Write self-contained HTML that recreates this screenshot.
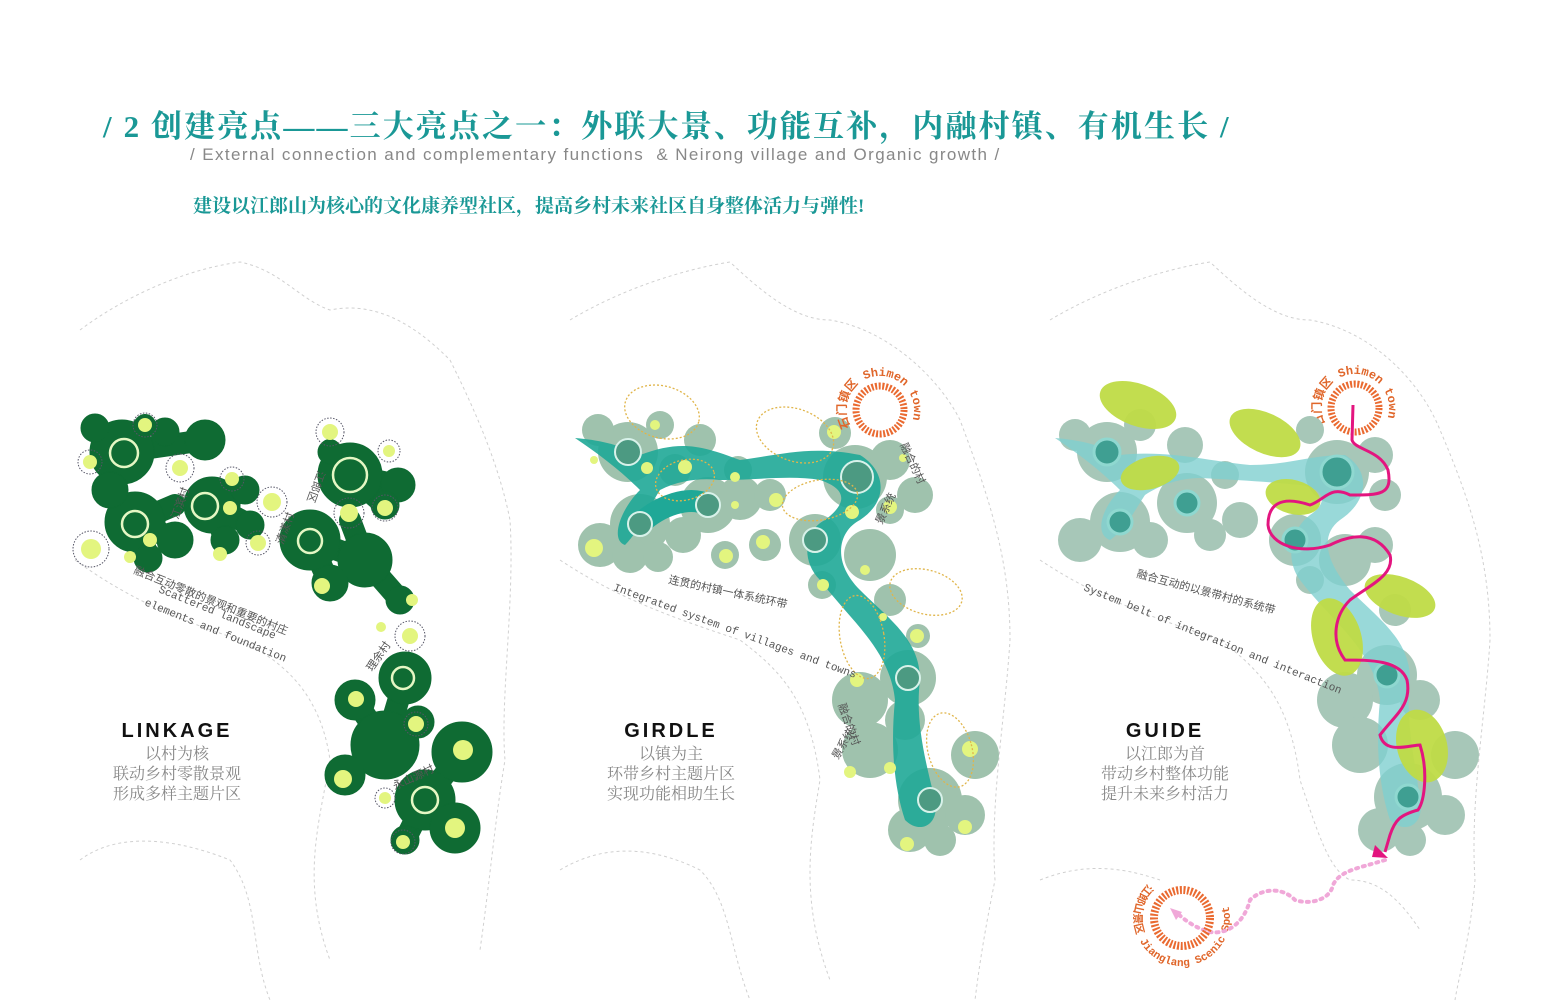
<!DOCTYPE html>
<html><head><meta charset="utf-8"><style>
html,body{margin:0;padding:0;background:#fff;}
body{width:1552px;height:1003px;overflow:hidden;position:relative;}
svg{position:absolute;left:0;top:0;}
</style></head><body>
<svg width="1552" height="1003" viewBox="0 0 1552 1003" xmlns="http://www.w3.org/2000/svg">
<defs>
<path id="arcS2" d="M850.6,427 A34,34 0 1 1 897,439.4"/>
<path id="arcS3" d="M1325.6,425 A34,34 0 1 1 1372,437.4"/>
<path id="arcJ" d="M1148,884 A48,48 0 1 0 1198.4,872.9"/>
</defs>
<!-- map outlines -->
<g fill="none" stroke="#d0d0d0" stroke-width="1" stroke-dasharray="3,3">
<path d="M80,330 C120,300 180,270 240,262 C280,270 300,300 330,310 C380,300 420,330 450,360 C480,420 500,470 510,520 C515,600 500,700 505,760 C495,820 490,880 480,950"/>
<path d="M75,560 C130,600 180,620 240,640 C280,660 320,690 330,760 C320,820 300,880 330,960"/>
<path d="M80,860 C120,830 180,840 230,860 C260,900 250,950 270,1000"/>
<path d="M570,320 C620,290 680,270 730,262 C770,300 800,320 830,320 C890,330 940,380 960,420 C990,500 1010,560 1010,640 C1005,720 990,800 995,880 C985,930 980,960 975,1000"/>
<path d="M560,560 C620,600 680,620 740,640 C780,670 810,700 820,780 C810,840 800,900 830,980"/>
<path d="M560,870 C610,840 660,850 700,870 C730,900 730,950 750,1000"/>
<path d="M1050,320 C1100,290 1160,270 1210,262 C1250,300 1280,320 1310,320 C1370,330 1420,380 1440,430 C1470,500 1490,560 1490,640 C1485,720 1470,800 1475,880 C1470,940 1460,970 1455,1000"/>
<path d="M1040,560 C1100,600 1160,620 1220,640 C1260,670 1290,700 1300,780 C1320,840 1330,870 1350,880 C1380,880 1400,900 1420,930"/>
<path d="M1040,880 C1090,860 1130,870 1160,880"/>
</g>

<!-- Panel 1 LINKAGE -->
<g fill="#0f6b33" stroke="#0f6b33" stroke-linecap="round">
<g stroke-width="22" fill="none">
<path d="M95,428 L122,452 L205,440"/><path d="M145,425 L122,452"/>
<path d="M110,490 L135,522 L178,540"/><path d="M135,522 L150,560"/><path d="M135,522 L175,505"/>
<path d="M212,505 L245,490 M212,505 L250,525 M212,505 L225,540"/>
<path d="M350,475 L398,485 M350,475 L330,450 M350,475 L385,505"/>
<path d="M310,540 L365,560 L400,600 M310,540 L330,585 M365,560 L350,520"/>
<path d="M405,678 L385,745 L355,700 M385,745 L345,775 M385,745 L418,722"/>
<path d="M425,800 L462,752 M425,800 L455,828 M425,800 L405,840"/>
</g>
<circle cx="122" cy="452" r="32"/><circle cx="205" cy="440" r="20"/><circle cx="95" cy="428" r="14"/><circle cx="165" cy="432" r="14"/>
<circle cx="135" cy="522" r="30"/><circle cx="110" cy="490" r="18"/><circle cx="175" cy="540" r="18"/><circle cx="148" cy="558" r="14"/>
<circle cx="212" cy="505" r="28"/><circle cx="245" cy="490" r="14"/><circle cx="250" cy="525" r="14"/><circle cx="225" cy="540" r="14"/>
<circle cx="350" cy="475" r="32"/><circle cx="398" cy="485" r="17"/><circle cx="330" cy="452" r="12"/><circle cx="385" cy="505" r="14"/>
<circle cx="310" cy="540" r="30"/><circle cx="365" cy="560" r="27"/><circle cx="400" cy="600" r="14"/><circle cx="330" cy="583" r="18"/>
<circle cx="405" cy="678" r="26"/><circle cx="355" cy="700" r="20"/><circle cx="385" cy="745" r="34"/><circle cx="345" cy="775" r="20"/><circle cx="418" cy="722" r="16"/>
<circle cx="425" cy="800" r="30"/><circle cx="462" cy="752" r="30"/><circle cx="455" cy="828" r="25"/><circle cx="405" cy="840" r="14"/>
</g>
<g fill="none" stroke="#e5f7c4" stroke-width="2.5">
<circle cx="124" cy="453" r="14"/><circle cx="135" cy="524" r="13"/><circle cx="205" cy="506" r="13"/><circle cx="350" cy="475" r="17"/><circle cx="310" cy="541" r="12"/><circle cx="403" cy="678" r="11"/><circle cx="425" cy="800" r="13"/>
</g>
<g fill="#e3f57f">
<circle cx="145" cy="425" r="7"/><circle cx="90" cy="462" r="7"/><circle cx="180" cy="468" r="8"/><circle cx="91" cy="549" r="10"/><circle cx="130" cy="557" r="6"/><circle cx="150" cy="540" r="7"/>
<circle cx="232" cy="479" r="7"/><circle cx="230" cy="508" r="7"/><circle cx="272" cy="502" r="9"/><circle cx="258" cy="543" r="8"/><circle cx="220" cy="554" r="7"/>
<circle cx="330" cy="432" r="8"/><circle cx="389" cy="451" r="6"/><circle cx="385" cy="508" r="8"/><circle cx="349" cy="513" r="9"/><circle cx="322" cy="586" r="8"/><circle cx="412" cy="600" r="6"/><circle cx="381" cy="627" r="5"/><circle cx="410" cy="636" r="8"/>
<circle cx="356" cy="699" r="8"/><circle cx="416" cy="724" r="8"/><circle cx="343" cy="779" r="9"/><circle cx="385" cy="798" r="6"/><circle cx="463" cy="750" r="10"/><circle cx="455" cy="828" r="10"/><circle cx="403" cy="842" r="7"/>
</g>
<g fill="none" stroke="#556" stroke-width="1" stroke-dasharray="1.5,1.5">
<circle cx="145" cy="425" r="12"/><circle cx="90" cy="462" r="12"/><circle cx="180" cy="468" r="14"/><circle cx="91" cy="549" r="18"/><circle cx="232" cy="479" r="12"/><circle cx="272" cy="502" r="15"/><circle cx="258" cy="543" r="12"/><circle cx="330" cy="432" r="14"/><circle cx="389" cy="451" r="11"/><circle cx="385" cy="508" r="13"/><circle cx="349" cy="513" r="15"/><circle cx="410" cy="636" r="15"/><circle cx="416" cy="724" r="12"/><circle cx="385" cy="798" r="10"/><circle cx="403" cy="842" r="12"/>
</g>
<g font-family="'Liberation Mono','Noto Sans CJK SC',monospace" fill="#555" font-size="11">
<text transform="translate(133,573) rotate(22)">融合互动零散的景观和重要的村庄</text>
<text transform="translate(158,592) rotate(22)">Scattered landscape</text>
<text transform="translate(144,605) rotate(22)">elements and foundation</text>
<text transform="translate(178,520) rotate(-70)">江滨村</text>
<text transform="translate(283,545) rotate(-70)">清漾村</text>
<text transform="translate(318,470) rotate(110)">江郎区</text>
<text transform="translate(372,672) rotate(-55)">理余村</text>
<text transform="translate(395,790) rotate(-25)">永山源村</text>
</g>

<!-- Panel 2 GIRDLE -->
<g fill="#9fc2ad">
<circle cx="628" cy="452" r="30"/><circle cx="598" cy="430" r="16"/><circle cx="660" cy="425" r="14"/><circle cx="700" cy="440" r="16"/><circle cx="675" cy="470" r="16"/>
<circle cx="640" cy="524" r="30"/><circle cx="600" cy="545" r="22"/><circle cx="630" cy="555" r="18"/><circle cx="658" cy="557" r="15"/><circle cx="683" cy="535" r="18"/>
<circle cx="708" cy="505" r="28"/><circle cx="740" cy="498" r="22"/><circle cx="738" cy="470" r="14"/><circle cx="770" cy="495" r="16"/><circle cx="765" cy="545" r="16"/><circle cx="725" cy="555" r="14"/>
<circle cx="855" cy="477" r="32"/><circle cx="835" cy="433" r="16"/><circle cx="890" cy="460" r="20"/><circle cx="915" cy="495" r="18"/><circle cx="890" cy="510" r="14"/>
<circle cx="815" cy="540" r="26"/><circle cx="870" cy="555" r="26"/><circle cx="822" cy="585" r="14"/><circle cx="890" cy="600" r="16"/><circle cx="918" cy="636" r="12"/>
<circle cx="908" cy="678" r="28"/><circle cx="860" cy="700" r="28"/><circle cx="870" cy="750" r="28"/><circle cx="905" cy="720" r="20"/>
<circle cx="930" cy="800" r="32"/><circle cx="975" cy="755" r="24"/><circle cx="965" cy="815" r="20"/><circle cx="910" cy="830" r="22"/><circle cx="940" cy="840" r="16"/>
</g>
<path d="M575,438 C600,440 620,445 640,455 C680,440 700,445 740,460 C780,455 810,445 860,455 C885,470 890,500 860,520 C840,530 830,560 860,590 C890,620 920,640 920,680 C915,720 925,760 935,800 C940,825 920,835 905,820 C895,790 890,750 895,700 C890,650 850,620 820,580 C800,560 805,530 825,520 C845,505 850,490 820,480 C790,475 760,480 720,480 C700,478 680,480 660,490 C650,505 640,530 625,545 C610,540 620,510 640,490 C620,470 600,455 575,438 Z" fill="#1fa897" opacity="0.9"/>
<path d="M640,524 C660,505 690,495 708,505" fill="none" stroke="#1fa897" stroke-width="22"/>
<g fill="#4c9a82" stroke="#d8f2ea" stroke-width="2">
<circle cx="628" cy="452" r="13"/><circle cx="640" cy="524" r="12"/><circle cx="708" cy="505" r="12"/><circle cx="857" cy="477" r="16"/><circle cx="815" cy="540" r="12"/><circle cx="908" cy="678" r="12"/><circle cx="930" cy="800" r="12"/>
</g>
<g fill="#e3f57f">
<circle cx="594" cy="548" r="9"/><circle cx="594" cy="460" r="4"/><circle cx="655" cy="425" r="5"/><circle cx="685" cy="467" r="7"/><circle cx="647" cy="468" r="6"/>
<circle cx="735" cy="477" r="5"/><circle cx="776" cy="500" r="7"/><circle cx="763" cy="542" r="7"/><circle cx="726" cy="556" r="7"/><circle cx="735" cy="505" r="4"/>
<circle cx="834" cy="432" r="7"/><circle cx="852" cy="512" r="7"/><circle cx="890" cy="507" r="7"/><circle cx="903" cy="458" r="4"/>
<circle cx="823" cy="585" r="6"/><circle cx="865" cy="570" r="5"/><circle cx="917" cy="636" r="7"/><circle cx="883" cy="617" r="4"/>
<circle cx="857" cy="680" r="7"/><circle cx="850" cy="772" r="6"/><circle cx="890" cy="768" r="6"/><circle cx="970" cy="749" r="8"/><circle cx="965" cy="827" r="7"/><circle cx="907" cy="844" r="7"/>
</g>
<g fill="none" stroke="#e0b54a" stroke-width="1.3" stroke-dasharray="2,2">
<ellipse cx="662" cy="412" rx="38" ry="26" transform="rotate(15 662 412)"/>
<ellipse cx="795" cy="435" rx="40" ry="26" transform="rotate(20 795 435)"/>
<ellipse cx="685" cy="480" rx="30" ry="20" transform="rotate(-15 685 480)"/>
<ellipse cx="820" cy="500" rx="38" ry="20" transform="rotate(-10 820 500)"/>
<ellipse cx="926" cy="592" rx="37" ry="22" transform="rotate(15 926 592)"/>
<ellipse cx="862" cy="637" rx="22" ry="42" transform="rotate(-10 862 637)"/>
<ellipse cx="950" cy="750" rx="22" ry="38" transform="rotate(-15 950 750)"/>
</g>
<circle cx="880" cy="410" r="24" fill="none" stroke="#ea6a30" stroke-width="7" stroke-dasharray="2,1.6"/>
<g font-family="'Liberation Mono','Noto Sans CJK SC',monospace" fill="#555" font-size="11">
<text transform="translate(668,583) rotate(12)">连贯的村镇一体系统环带</text>
<text transform="translate(613,590) rotate(20)">Integrated system of villages and towns</text>
<text transform="translate(900,445) rotate(65)">融合的村</text>
<text transform="translate(882,525) rotate(-65)">景系统</text>
<text transform="translate(838,705) rotate(70)">融合的村</text>
<text transform="translate(838,760) rotate(-60)">景系统</text>
</g>
<g font-family="'Liberation Mono','Noto Sans CJK SC',monospace" fill="#e0662a" font-size="12" font-weight="bold">
<text><textPath href="#arcS2">石门镇区 Shimen town</textPath></text>
<text><textPath href="#arcS3">石门镇区 Shimen town</textPath></text>
</g>
<text font-family="'Liberation Mono','Noto Sans CJK SC',monospace" fill="#e0662a" font-size="11" font-weight="bold"><textPath href="#arcJ">江郎山景区 Jianglang Scenic Spot</textPath></text>

<!-- Panel 3 GUIDE -->
<g fill="#a7c7b8">
<circle cx="1107" cy="452" r="30"/><circle cx="1075" cy="435" r="16"/><circle cx="1140" cy="425" r="16"/><circle cx="1185" cy="445" r="18"/>
<circle cx="1120" cy="522" r="30"/><circle cx="1080" cy="540" r="22"/><circle cx="1150" cy="540" r="18"/>
<circle cx="1187" cy="503" r="30"/><circle cx="1225" cy="475" r="14"/><circle cx="1240" cy="520" r="18"/><circle cx="1210" cy="535" r="16"/>
<circle cx="1337" cy="472" r="32"/><circle cx="1310" cy="430" r="14"/><circle cx="1375" cy="455" r="18"/><circle cx="1385" cy="495" r="16"/>
<circle cx="1295" cy="540" r="26"/><circle cx="1345" cy="560" r="26"/><circle cx="1375" cy="545" r="18"/><circle cx="1310" cy="580" r="14"/><circle cx="1395" cy="610" r="16"/>
<circle cx="1387" cy="675" r="30"/><circle cx="1345" cy="700" r="28"/><circle cx="1360" cy="745" r="28"/><circle cx="1420" cy="700" r="20"/>
<circle cx="1408" cy="797" r="34"/><circle cx="1455" cy="755" r="24"/><circle cx="1445" cy="815" r="20"/><circle cx="1380" cy="830" r="22"/><circle cx="1410" cy="840" r="16"/>
</g>
<path d="M1055,438 C1080,440 1100,445 1120,455 C1170,450 1200,460 1250,465 C1290,465 1310,455 1345,455 C1370,470 1370,500 1340,520 C1320,535 1325,560 1350,590 C1380,620 1410,640 1410,680 C1405,720 1415,760 1420,800 C1425,825 1405,835 1390,820 C1380,790 1375,750 1380,700 C1375,650 1330,620 1300,580 C1285,560 1290,530 1310,515 C1325,505 1330,490 1300,485 C1270,482 1240,480 1200,478 C1180,478 1160,485 1145,495 C1135,510 1125,530 1110,540 C1095,535 1100,510 1120,490 C1100,470 1080,455 1055,438 Z" fill="#7fd0cf" opacity="0.8"/>
<g fill="#3f9f92" stroke="#8fd8d0" stroke-width="3">
<circle cx="1107" cy="452" r="13"/><circle cx="1120" cy="522" r="12"/><circle cx="1187" cy="503" r="12"/><circle cx="1337" cy="472" r="16"/><circle cx="1295" cy="540" r="12"/><circle cx="1387" cy="675" r="12"/><circle cx="1408" cy="797" r="12"/>
</g>
<g fill="#bfdc46" opacity="0.95">
<ellipse cx="1138" cy="405" rx="40" ry="21" transform="rotate(20 1138 405)"/>
<ellipse cx="1265" cy="433" rx="38" ry="20" transform="rotate(25 1265 433)"/>
<ellipse cx="1150" cy="473" rx="30" ry="16" transform="rotate(-15 1150 473)"/>
<ellipse cx="1293" cy="497" rx="28" ry="17" transform="rotate(15 1293 497)"/>
<ellipse cx="1400" cy="596" rx="37" ry="19" transform="rotate(20 1400 596)"/>
<ellipse cx="1337" cy="637" rx="24" ry="40" transform="rotate(-18 1337 637)"/>
<ellipse cx="1422" cy="746" rx="25" ry="37" transform="rotate(-15 1422 746)"/>
</g>
<circle cx="1355" cy="408" r="24" fill="none" stroke="#ea6a30" stroke-width="7" stroke-dasharray="2,1.6"/>
<path d="M1353,405 L1352,440 C1355,450 1380,450 1388,470 C1393,495 1380,495 1350,495 C1330,485 1325,500 1310,505 C1280,495 1268,505 1268,525 C1270,545 1300,555 1330,545 C1350,535 1375,530 1390,555 C1395,575 1370,585 1350,600 C1335,615 1330,640 1345,660 C1370,660 1400,660 1407,680 C1412,705 1395,715 1380,735 C1385,755 1410,745 1420,745 C1428,770 1425,800 1418,810 C1400,815 1395,820 1390,835 L1385,852" fill="none" stroke="#e3157f" stroke-width="3"/>
<path d="M1375,845 L1388,858 L1372,857 Z" fill="#e3157f"/>
<path d="M1385,860 C1360,868 1340,870 1333,885 C1330,900 1310,905 1295,900 C1280,885 1260,890 1250,900 C1245,920 1230,935 1210,932 C1195,928 1185,920 1178,914" fill="none" stroke="#f0a8d8" stroke-width="4" stroke-dasharray="2,5" stroke-linecap="round"/>
<path d="M1170,908 L1182,912 L1176,920 Z" fill="#f0a8d8"/>
<circle cx="1182" cy="918" r="28" fill="none" stroke="#ea6a30" stroke-width="8" stroke-dasharray="2,1.6"/>
<g font-family="'Liberation Mono','Noto Sans CJK SC',monospace" fill="#555" font-size="11">
<text transform="translate(1136,577) rotate(15)">融合互动的以景带村的系统带</text>
<text transform="translate(1083,590) rotate(22)">System belt of integration and interaction</text>
</g>

<!-- Titles -->
<g font-family="'Liberation Sans',sans-serif" font-weight="bold" fill="#111" font-size="20" letter-spacing="3" text-anchor="middle">
<text x="177" y="737">LINKAGE</text>
<text x="671" y="737">GIRDLE</text>
<text x="1165" y="737">GUIDE</text>
</g>
<g font-family="'Liberation Serif','Noto Serif CJK SC',serif" fill="#888" font-size="16" text-anchor="middle">
<text x="177" y="759">以村为核</text><text x="177" y="779">联动乡村零散景观</text><text x="177" y="799">形成多样主题片区</text>
<text x="671" y="759">以镇为主</text><text x="671" y="779">环带乡村主题片区</text><text x="671" y="799">实现功能相助生长</text>
<text x="1165" y="759">以江郎为首</text><text x="1165" y="779">带动乡村整体功能</text><text x="1165" y="799">提升未来乡村活力</text>
</g>
</svg>
<div style="position:absolute;left:103px;top:101px;font-family:'Liberation Serif','Noto Serif CJK SC',serif;font-size:31px;font-weight:bold;color:#1a9896;white-space:nowrap;letter-spacing:2.1px;">/ 2 创建亮点——三大亮点之一：外联大景、功能互补，内融村镇、有机生长 /</div>
<div style="position:absolute;left:190px;top:145px;font-family:'Liberation Sans',sans-serif;font-size:17px;color:#888;white-space:nowrap;letter-spacing:1.4px;">/ External connection and complementary functions &nbsp;&amp; Neirong village and Organic growth /</div>
<div style="position:absolute;left:193px;top:191px;font-family:'Liberation Serif','Noto Serif CJK SC',serif;font-size:19px;font-weight:bold;color:#1a9896;white-space:nowrap;">建设以江郎山为核心的文化康养型社区，提高乡村未来社区自身整体活力与弹性!</div>
</body></html>
